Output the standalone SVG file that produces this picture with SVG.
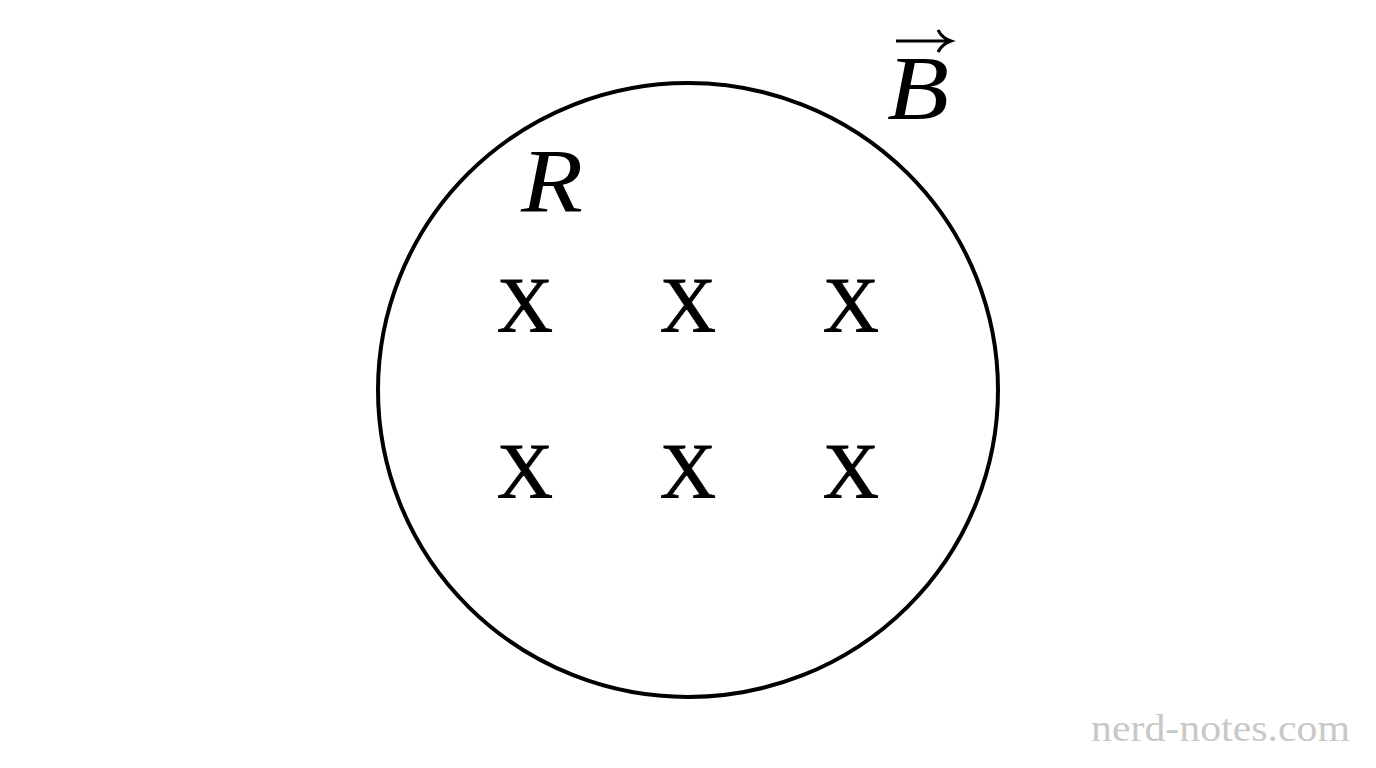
<svg xmlns="http://www.w3.org/2000/svg" width="1376" height="768" viewBox="0 0 1376 768">
<style>
.x{font-family:"Liberation Serif","DejaVu Serif",serif;font-size:78px;fill:#000;stroke:#000;stroke-width:0.8;text-anchor:middle}
.it{font-family:"Liberation Serif","DejaVu Serif",serif;font-style:italic;font-size:90px;fill:#000}
.wm{font-family:"Liberation Serif","DejaVu Serif",serif;font-size:38px;fill:#c8c8c8}
</style>
<rect width="1376" height="768" fill="#fff"/>
<g id="circle">
<ellipse cx="688" cy="390" rx="310" ry="307" fill="none" stroke="#000" stroke-width="4"/>
</g>
<g id="label-R"><text class="it" x="521" y="212" textLength="62" lengthAdjust="spacingAndGlyphs">R</text></g>
<g id="label-B">
<text class="it" x="887" y="119" textLength="62" lengthAdjust="spacingAndGlyphs">B</text>
<path d="M896 41 H950 M938 30 Q942 38 951 41 Q942 44 938 52" fill="none" stroke="#000" stroke-width="3"/>
</g>
<g id="field">
<text class="x" x="525" y="331">X</text>
<text class="x" x="688" y="331">X</text>
<text class="x" x="851" y="331">X</text>
<text class="x" x="525" y="497">X</text>
<text class="x" x="688" y="497">X</text>
<text class="x" x="851" y="497">X</text>
</g>
<g id="connectors"/>
<text class="wm" x="1091" y="741" textLength="259" lengthAdjust="spacingAndGlyphs">nerd-notes.com</text>
</svg>
